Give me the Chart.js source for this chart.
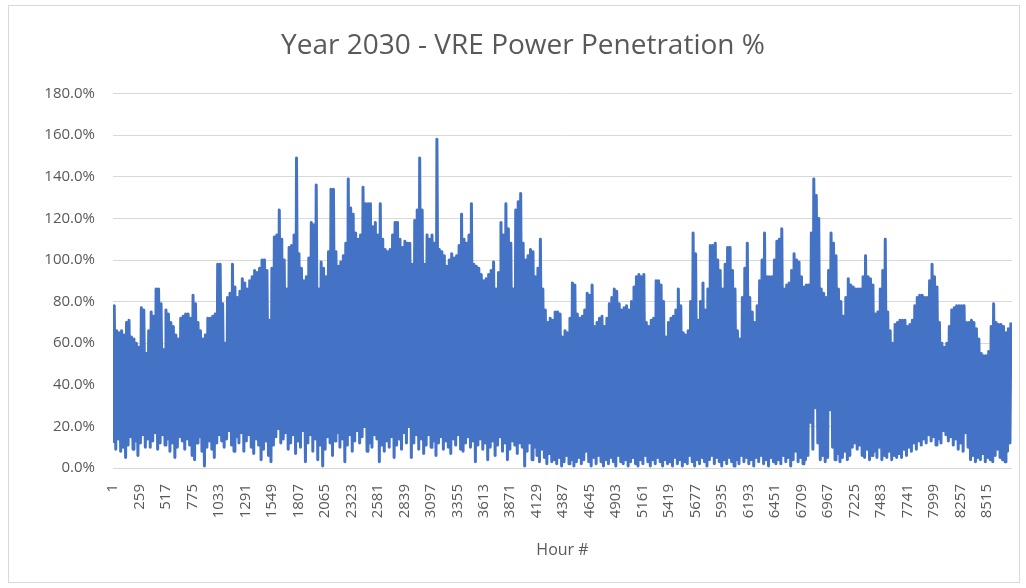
<!DOCTYPE html>
<html>
<head>
<meta charset="utf-8">
<script src="https://cdn.jsdelivr.net/npm/chart.js@4.4.1/dist/chart.umd.min.js"></script>
<style>
  html, body { margin: 0; padding: 0; background: #fff; }
  body { width: 1026px; height: 588px; position: relative; overflow: hidden; }
  #card { position: absolute; left: 8px; top: 5px; width: 1012px; height: 578px; border: 1px solid #d9d9d9; box-sizing: border-box; }
  #wrap { position: absolute; left: 0; top: 0; width: 1026px; height: 588px; }
</style>
</head>
<body>
<div id="card"></div>
<div id="wrap"><canvas id="myChart" width="1026" height="588"></canvas></div>
<script>
// highest and lowest penetration of each day (%)
const dailyMax = [
  78,66,65,66,64,70,71,63,62,60,
  58,77,76,55,66,75,73,86,86,79,
  57,76,74,70,68,64,62,72,73,74,
  74,72,83,79,70,66,62,64,72,72,
  73,74,98,98,79,60,82,84,98,87,
  82,85,91,89,86,90,92,95,94,96,
  100,100,95,71,96,111,112,124,110,100,
  86,106,107,112,149,103,96,90,92,101,
  118,117,136,86,99,96,92,104,134,134,
  104,97,99,102,108,139,125,122,113,110,
  112,135,127,127,127,116,118,112,127,110,
  105,104,105,112,118,118,110,106,109,108,
  108,98,119,124,149,124,98,112,110,112,
  108,158,105,104,102,97,100,103,101,102,
  107,122,110,108,112,127,98,97,96,93,
  90,91,93,95,99,86,94,118,112,127,
  115,108,86,124,128,132,108,100,102,105,
  104,92,96,110,86,76,70,72,71,75,
  75,74,63,66,65,72,89,88,74,72,
  73,76,84,83,88,68,70,72,73,68,
  72,79,82,86,85,79,76,77,78,76,
  80,87,92,93,92,93,70,68,71,72,
  90,90,88,80,63,70,72,73,76,86,
  78,65,64,66,80,113,103,71,80,89,
  76,86,107,107,108,100,95,86,98,106,
  106,95,86,66,62,82,96,108,82,75,
  70,78,90,100,113,92,92,92,100,109,
  110,115,86,88,89,95,103,100,99,92,
  87,88,88,113,139,131,120,86,84,82,
  95,113,108,102,86,80,73,82,91,88,
  87,86,86,86,92,102,92,91,88,74,
  75,86,95,110,75,66,60,69,70,71,
  71,71,68,69,71,78,82,83,83,82,
  82,90,98,92,87,70,60,58,60,68,
  76,77,78,78,78,78,70,70,71,70,
  67,62,55,54,54,56,68,79,70,69,
  69,68,65,67,70
];
const dailyMin = [
  12,9,14,8,10,5,11,15,9,13,
  6,12,16,10,14,10,13,17,9,12,
  16,11,14,8,12,5,10,15,13,9,
  14,11,6,4,12,15,8,1,10,13,
  9,5,12,16,13,10,14,18,11,8,
  15,12,17,8,13,16,10,7,14,11,
  4,9,13,6,3,11,15,19,12,14,
  17,9,12,16,7,13,10,18,3,12,
  16,8,14,4,11,1,9,15,12,6,
  13,17,10,14,3,11,16,8,13,18,
  12,15,20,8,12,10,16,14,3,11,
  8,13,10,15,5,11,14,9,17,12,
  20,5,12,16,9,14,7,11,16,10,
  13,6,12,15,9,13,10,7,14,11,
  16,9,8,12,15,10,13,3,11,14,
  9,12,4,10,13,6,11,15,8,12,
  4,9,13,11,7,12,10,1,8,12,
  4,10,6,3,9,5,2,7,3,4,
  2,5,1,3,6,2,4,1,3,5,
  2,4,8,3,1,5,2,6,3,1,
  4,2,5,3,1,6,3,2,4,1,
  3,5,2,1,4,2,6,3,1,4,
  2,5,3,1,4,2,3,1,5,2,
  4,1,3,2,6,3,1,4,2,5,
  3,1,4,6,2,5,3,1,4,2,
  5,3,1,4,2,6,3,5,2,4,
  1,5,3,6,2,4,1,5,3,2,
  4,2,6,3,5,1,4,8,3,5,
  2,4,6,22,9,29,12,4,6,3,
  5,28,10,4,7,3,5,8,4,6,
  10,12,9,11,6,5,9,4,6,8,
  5,10,4,6,5,8,4,6,5,7,
  5,9,6,10,8,12,9,13,11,14,
  12,16,13,15,11,14,12,18,16,13,
  15,11,14,9,12,8,17,10,4,6,
  3,5,4,7,3,5,4,3,6,9,
  5,4,3,8,12
];
const lowHour = 4;    // hour of the day where the low sits
const highHour = 13;  // hour of the day where the high sits
const hourTicks = [1,259,517,775,1033,1291,1549,1807,2065,2323,2581,2839,3097,3355,
  3613,3871,4129,4387,4645,4903,5161,5419,5677,5935,6193,6451,6709,6967,7225,
  7483,7741,7999,8257,8515];
const pctTicks = [0,20,40,60,80,100,120,140,160,180];

var points = [];
for (var d = 0; d < dailyMax.length; d++) {
    points.push({x: d * 24 + lowHour, y: dailyMin[d]});
    points.push({x: d * 24 + highHour, y: dailyMax[d]});
}

const grey = '#595959';
const font = '"Open Sans", "Liberation Sans", sans-serif';

const ctx = document.getElementById('myChart');
chart = new Chart(ctx, {
    type: 'line',
    data: {
        datasets: [{
            label: 'VRE Power Penetration %',
            data: points,
            borderColor: '#4472C4',
            borderWidth: 3,
            borderJoinStyle: 'round',
            pointRadius: 0,
            tension: 0,
            fill: false
        }]
    },
    options: {
        responsive: false,
        animation: false,
        parsing: false,
        normalized: true,
        // left padding only moves the title centre, y axis keeps plot at x=113
        layout: { padding: { left: 34, right: 14, top: 0, bottom: 0 } },
        plugins: {
            legend: { display: false },
            tooltip: { enabled: false },
            title: {
                display: true,
                text: 'Year 2030 - VRE Power Penetration %',
                color: grey,
                font: { family: font, size: 28, weight: 'normal' },
                padding: { top: 29, bottom: 31 }
            }
        },
        scales: {
            x: {
                type: 'linear',
                min: 1,
                max: 8760,
                afterBuildTicks: function(scale) {
                    scale.ticks = hourTicks.map(function(v) { return {value: v}; });
                },
                afterFit: function(scale) { scale.height = 120; },
                grid: { display: false },
                border: { display: false },
                ticks: {
                    autoSkip: false,
                    minRotation: 90,
                    maxRotation: 90,
                    padding: 8,
                    color: grey,
                    font: { family: font, size: 15 },
                    callback: function(v) { return String(v); }
                },
                title: {
                    display: true,
                    text: 'Hour #',
                    color: grey,
                    font: { family: font, size: 16 },
                    padding: { top: 4, bottom: 28 }
                }
            },
            y: {
                min: 0,
                max: 180,
                afterBuildTicks: function(scale) {
                    scale.ticks = pctTicks.map(function(v) { return {value: v}; });
                },
                afterFit: function(scale) { scale.width = 79; },
                grid: { color: '#d9d9d9', lineWidth: 1, drawTicks: false },
                border: { display: false },
                ticks: {
                    padding: 18,
                    color: grey,
                    font: { family: font, size: 15 },
                    callback: function(v) { return v.toFixed(1) + '%'; }
                }
            }
        }
    }
});
</script>
</body>
</html>
